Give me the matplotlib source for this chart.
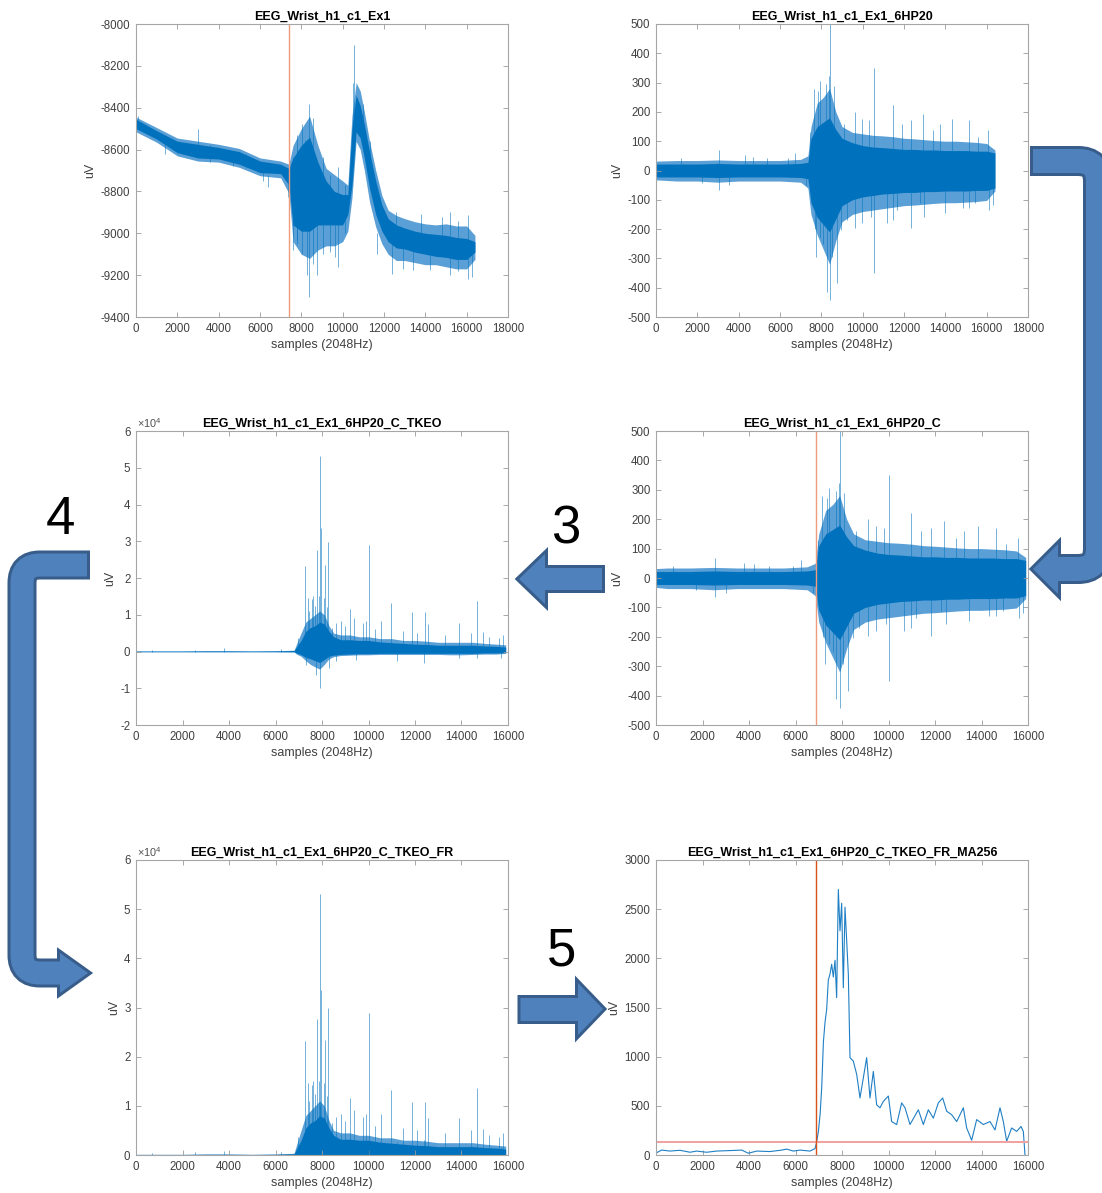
import numpy as np
import matplotlib.pyplot as plt
from matplotlib.path import Path
from matplotlib.patches import PathPatch, Polygon
from matplotlib.ticker import FuncFormatter

plt.rcParams['font.family'] = ['Liberation Sans', 'DejaVu Sans']
plt.rcParams['axes.unicode_minus'] = False
plt.rcParams['mathtext.default'] = 'regular'

# ---- raw signal (EEG_Wrist_h1_c1_Ex1), envelope read per segment ----
raw_x = [0, 1000, 2000, 3000, 4000, 5000, 6000, 7000,
         7400, 7600, 8000, 8400, 8800, 9200, 9600, 10000,
         10250, 10450, 10650, 10850, 11050, 11300, 11600, 11900,
         12200, 12600, 13000, 13500, 14000, 14500, 15000, 15500,
         16000, 16400]
raw_in_hi = [-8455, -8510, -8560, -8575, -8590, -8610, -8655, -8670,
             -8690, -8640, -8580, -8540, -8660, -8750, -8800, -8815,
             -8815, -8500, -8340, -8390, -8480, -8610, -8750, -8865,
             -8930, -8960, -8975, -8990, -9000, -9005, -9010, -9020,
             -9025, -9040]
raw_in_lo = [-8500, -8550, -8615, -8640, -8645, -8670, -8710, -8715,
             -8770, -8960, -8990, -8990, -8960, -8960, -8960, -8960,
             -8910, -8770, -8515, -8545, -8640, -8785, -8910, -8990,
             -9040, -9070, -9075, -9090, -9100, -9110, -9115, -9125,
             -9125, -9090]
raw_out_hi = [-8445, -8495, -8545, -8560, -8575, -8595, -8640, -8655,
              -8670, -8580, -8500, -8440, -8580, -8690, -8720, -8750,
              -8770, -8440, -8280, -8320, -8420, -8560, -8700, -8820,
              -8890, -8915, -8930, -8945, -8955, -8960, -8955, -8965,
              -8965, -9010]
raw_out_lo = [-8515, -8565, -8630, -8655, -8660, -8685, -8725, -8735,
              -8810, -9040, -9100, -9120, -9080, -9060, -9060, -9040,
              -8990, -8830, -8560, -8600, -8700, -8850, -8970, -9050,
              -9100, -9130, -9130, -9140, -9150, -9150, -9160, -9170,
              -9170, -9125]
# isolated excursions: sample, from, to
raw_spk_x = [113, 1400, 3016, 3600, 4700, 5300, 6130, 6400, 7371, 7613,
             7774, 7935, 8177, 8387, 8290, 8581, 8774, 9065, 9629, 9790,
             10113, 10548, 10500, 10968, 11300, 11645, 12371, 12903, 13419, 14226,
             14800, 15194, 15600, 16081, 16242, 12600, 13800, 9400, 8050, 7800]
raw_spk_a = [-8440, -8560, -8600, -8580, -8610, -8620, -8700, -8720, -8760, -8635,
             -8600, -8619, -8555, -8384, -8900, -8451, -8900, -8635, -8900, -8683,
             -8770, -8100, -8284, -8380, -8560, -9000, -9050, -9050, -9050, -9050,
             -8920, -8898, -8940, -8914, -9050, -8900, -8910, -8720, -8480, -8530]
raw_spk_b = [-8491, -8620, -8500, -8660, -8680, -8690, -8750, -8778, -8826, -9081,
             -9033, -8800, -8950, -9305, -9201, -9145, -9201, -9097, -9113, -9161,
             -9001, -8450, -8500, -8500, -8650, -9097, -9193, -9169, -9177, -9177,
             -9060, -9201, -9180, -9217, -9209, -9050, -9060, -9090, -9100, -9050]

# ---- high-passed signal (6HP20), read on the raw sample axis ----
hp_x = [0, 1000, 2000, 3000, 4000, 5000, 6000, 7000, 7350, 7500,
        7800, 8100, 8400, 8700, 9000, 9500, 10000, 10500, 11000, 11500,
        12000, 12500, 13000, 13500, 14000, 14500, 15000, 15500, 16000, 16400]
hp_in_hi = [22, 22, 22, 24, 22, 22, 22, 24, 28, 110,
            150, 165, 180, 140, 110, 95, 85, 80, 78, 75,
            72, 72, 70, 70, 68, 68, 68, 66, 66, 60]
hp_in_lo = [-22, -22, -22, -24, -22, -22, -22, -24, -28, -110,
            -160, -185, -210, -165, -120, -100, -90, -85, -80, -78,
            -75, -75, -72, -72, -70, -70, -70, -68, -68, -60]
hp_out_hi = [32, 34, 34, 36, 34, 34, 34, 38, 50, 150,
             230, 250, 280, 200, 150, 130, 125, 120, 118, 115,
             110, 108, 105, 102, 100, 100, 98, 96, 92, 70]
hp_out_lo = [-32, -36, -36, -40, -36, -36, -36, -40, -60, -150,
             -220, -270, -320, -240, -175, -150, -140, -135, -130, -125,
             -120, -118, -115, -112, -110, -110, -108, -106, -102, -70]
hp_spk_x = [3038, 3038, 4300, 4702, 6738, 2221, 3511, 6380, 7240, 1217,
            5376, 8430, 8430, 8258, 8746, 7756, 7957, 8244, 8387, 8602,
            7641, 7842, 10538, 10538, 9606, 8961, 11470, 11470, 9606, 9964,
            10323, 11184, 12331, 12331, 12904, 12976, 13765, 14339, 15127, 15127,
            16059, 16131, 16300, 9104, 9247, 7957, 8530, 9964, 10394, 11685,
            11900, 12761, 13406, 13980, 14840, 15557, 15414, 7450, 8100, 7700]
hp_spk_y = [69, -65, 52, 46, 60, -42, -50, 41, -50, 41,
            41, 500, -441, -413, -384, -294, 305, 296, 324, 290,
            279, 273, 349, -350, -197, -203, 222, -169, 200, 177,
            171, -180, 171, -197, 194, -158, 160, 177, 171, -129,
            137, -135, -118, 160, -169, -226, -294, -180, -158, -135,
            160, -112, 137, -146, -129, 115, -112, 130, -250, -200]

# cropped version starts this many samples later
crop_offset = 500
crop_end = 15900
onset = 6900          # detected onset on the cropped axis
threshold = 130       # onset threshold on the MA256 envelope

# ---- TKEO of the cropped signal ----
tk_x = [0, 1000, 2000, 3000, 4000, 5000, 6000, 6800, 6900, 7100,
        7300, 7500, 7700, 7900, 8100, 8300, 8500, 8800, 9200, 9600,
        10000, 10500, 11000, 11500, 12000, 12500, 13000, 13500, 14000, 14500,
        15000, 15500, 15900]
tk_in_hi = [100, 100, 100, 150, 150, 100, 150, 250, 1200, 3000,
            5500, 6500, 7000, 8000, 7500, 5500, 4000, 3200, 3200, 3000,
            3000, 2600, 2400, 2200, 2000, 1900, 1700, 1700, 1700, 1700,
            1500, 1400, 1200]
tk_in_lo = [-50, -50, -50, -50, -50, -50, -50, -80, -400, -900,
            -1600, -2000, -2500, -3000, -2200, -1300, -1000, -800, -700, -600,
            -600, -500, -500, -500, -500, -500, -500, -500, -500, -500,
            -400, -400, -300]
tk_out_hi = [150, 150, 150, 200, 200, 150, 200, 350, 2000, 5000,
             8000, 9000, 10000, 11000, 10000, 7000, 5000, 4500, 4500, 4000,
             4000, 3500, 3500, 3000, 3000, 2800, 2500, 2500, 2500, 2500,
             2200, 2000, 1800]
tk_out_lo = [-80, -80, -80, -80, -80, -80, -80, -120, -700, -1300,
             -2500, -3500, -4200, -4800, -3500, -2000, -1400, -1100, -1000, -900,
             -900, -800, -800, -800, -800, -800, -800, -900, -900, -800,
             -700, -700, -500]
tk_spk_x = [7901, 7930, 7959, 8260, 7787, 7256, 8131, 10038, 7385, 7557,
            7629, 8073, 10970, 10540, 11859, 12418, 14684, 9220, 9393, 9751,
            9894, 13910, 12547, 14914, 15631, 8604, 8819, 6955, 7758, 7313,
            8317, 8604, 11228, 12404, 13881, 14655, 15702, 9464, 2538, 3800,
            674, 6238, 7450, 7700, 7850, 8200, 8450, 9000, 10300, 11500,
            12100, 13300, 14400, 15200, 15800]
tk_spk_y = [53150, -9890, 33650, 29840, 27570, 23220, 23490, 28930, 14600, 14150,
            15060, 14600, 13240, 8250, 10790, 10700, 13700, 11610, 9160, 7800,
            8250, 7620, 7530, 5260, 3720, 7800, 8250, 3720, -6260, -3540,
            -4440, -2630, -2630, -3080, -1720, -1720, -1720, -2180, 540, 820,
            450, 630, 11000, 12500, 15000, 12000, 6500, 7000, 6000, 5500,
            5000, 4500, 5000, 4000, 4500]

# ---- 256-sample moving average of the rectified TKEO ----
ma_x = [0, 244, 602, 1032, 1462, 1749, 2179, 2609, 3183, 3685,
        3971, 4330, 4903, 5405, 5620, 5907, 6194, 6624, 6839, 6910,
        6990, 7060, 7130, 7200, 7270, 7340, 7412, 7484, 7556, 7627,
        7699, 7770, 7842, 7914, 7986, 8057, 8129, 8201, 8272, 8344,
        8487, 8631, 8774, 8918, 9061, 9204, 9348, 9491, 9634, 9778,
        9993, 10136, 10351, 10566, 10710, 10925, 11283, 11498, 11713, 11928,
        12143, 12330, 12502, 12717, 12932, 13219, 13362, 13577, 13792, 14079,
        14366, 14581, 14796, 14939, 15082, 15297, 15513, 15699, 15799, 15871]
ma_y = [20, 50, 40, 48, 28, 40, 28, 40, 45, 50,
        18, 40, 35, 50, 60, 40, 50, 40, 65, 130,
        250, 420, 700, 1150, 1350, 1480, 1780, 1840, 1940, 1810,
        1980, 1600, 2700, 2280, 2560, 1700, 2520, 2180, 1840, 990,
        955, 820, 580, 785, 990, 580, 850, 510, 480, 545,
        600, 340, 310, 530, 480, 310, 460, 310, 460, 375,
        530, 580, 445, 410, 340, 480, 275, 150, 360, 310,
        340, 255, 480, 340, 140, 275, 240, 290, 240, 0]

W, H = 1102, 1193
BLUE = '#0072BD'
LIGHT = '#5a9fd6'
PX = 72 / 100


def rect(left, top, right, bottom):
    return [left / W, 1 - bottom / H, (right - left) / W, (bottom - top) / H]


def style(ax, title, xmax, ylim, yticks, sci=False):
    ax.set_xlim(0, xmax)
    ax.set_ylim(*ylim)
    ax.set_xticks(np.arange(0, xmax + 1, 2000))
    ax.set_yticks(yticks)
    if sci:
        ax.yaxis.set_major_formatter(FuncFormatter(lambda v, p: '%d' % round(v / 1e4)))
        ax.text(0.003, 1.004, r'$\times10^{4}$', transform=ax.transAxes,
                fontsize=7.8, color='#505050', ha='left', va='bottom')
    ax.tick_params(direction='in', top=True, right=True, length=3.5, width=0.6,
                   color='#9a9a9a', labelsize=8.3, labelcolor='#404040', pad=4)
    for s in ax.spines.values():
        s.set_color('#a6a6a6')
        s.set_linewidth(0.8)
    ax.set_title(title, fontsize=9, fontweight='bold', pad=3)
    ax.set_xlabel('samples (2048Hz)', fontsize=9, color='#404040', labelpad=3)
    ax.set_ylabel('uV', fontsize=9, color='#404040', labelpad=3)


def band(ax, x, in_hi, in_lo, out_hi, out_lo):
    ax.fill_between(x, out_lo, out_hi, color=LIGHT, lw=0)
    ax.fill_between(x, in_lo, in_hi, color=BLUE, lw=0)


def spikes(ax, x, y0, y1):
    ax.vlines(x, y0, y1, color=BLUE, lw=0.7, alpha=0.55)


fig = plt.figure(figsize=(W / 100, H / 100), dpi=100)
fig.patch.set_facecolor('white')

# 1: raw
ax1 = fig.add_axes(rect(136, 24, 508, 317))
band(ax1, raw_x, raw_in_hi, raw_in_lo, raw_out_hi, raw_out_lo)
spikes(ax1, raw_spk_x, raw_spk_a, raw_spk_b)
ax1.axvline(onset + crop_offset, color='#ef9b7c', lw=1)
style(ax1, 'EEG_Wrist_h1_c1_Ex1', 18000, (-9400, -8000), np.arange(-9400, -7999, 200))

# 2: high-pass
ax2 = fig.add_axes(rect(656, 24, 1028, 317))
band(ax2, hp_x, hp_in_hi, hp_in_lo, hp_out_hi, hp_out_lo)
spikes(ax2, hp_spk_x, 0, hp_spk_y)
style(ax2, 'EEG_Wrist_h1_c1_Ex1_6HP20', 18000, (-500, 500), np.arange(-500, 501, 100))

# 3: cropped high-pass
cx = np.clip(np.array(hp_x) - crop_offset, 0, crop_end)
cs_x = np.array(hp_spk_x) - crop_offset
keep = (cs_x >= 0) & (cs_x <= crop_end)
ax3 = fig.add_axes(rect(656, 431, 1028, 725))
band(ax3, cx, hp_in_hi, hp_in_lo, hp_out_hi, hp_out_lo)
spikes(ax3, cs_x[keep], 0, np.array(hp_spk_y)[keep])
ax3.axvline(onset, color='#ef9b7c', lw=1)
style(ax3, 'EEG_Wrist_h1_c1_Ex1_6HP20_C', 16000, (-500, 500), np.arange(-500, 501, 100))

# 4: TKEO
ax4 = fig.add_axes(rect(136, 431, 508, 725))
band(ax4, tk_x, tk_in_hi, tk_in_lo, tk_out_hi, tk_out_lo)
spikes(ax4, tk_spk_x, 0, tk_spk_y)
style(ax4, 'EEG_Wrist_h1_c1_Ex1_6HP20_C_TKEO', 16000, (-20000, 60000),
      np.arange(-20000, 60001, 10000), sci=True)

# 5: rectified TKEO
ax5 = fig.add_axes(rect(136, 860, 508, 1155))
fr_in = np.maximum(tk_in_hi, -np.array(tk_in_lo))
fr_out = np.maximum(tk_out_hi, -np.array(tk_out_lo))
band(ax5, tk_x, fr_in, np.zeros(len(tk_x)), fr_out, np.zeros(len(tk_x)))
spikes(ax5, tk_spk_x, 0, np.abs(tk_spk_y))
style(ax5, 'EEG_Wrist_h1_c1_Ex1_6HP20_C_TKEO_FR', 16000, (0, 60000),
      np.arange(0, 60001, 10000), sci=True)

# 6: moving average with threshold and onset
ax6 = fig.add_axes(rect(656, 860, 1028, 1155))
ax6.plot(ma_x, ma_y, color='#1f7fc4', lw=0.8)
ax6.axhline(threshold, color='#f3a0a0', lw=1.4)
ax6.axvline(onset, color='#D95319', lw=1)
style(ax6, 'EEG_Wrist_h1_c1_Ex1_6HP20_C_TKEO_FR_MA256', 16000, (0, 3000),
      np.arange(0, 3001, 500))

# ---- block arrows and step numbers on a full-figure overlay ----
ov = fig.add_axes([0, 0, 1, 1], zorder=10)
ov.set_xlim(0, W)
ov.set_ylim(H, 0)
ov.axis('off')
ov.patch.set_visible(False)

FILL = '#4F81BD'
EDGE = '#385D8A'


def block_arrow(ax, pts, width, head_len, head_half, radius=0, border=3):
    pts = np.asarray(pts, float)
    verts = [pts[0]]
    codes = [Path.MOVETO]
    for i in range(1, len(pts) - 1):
        p0, p1, p2 = pts[i - 1], pts[i], pts[i + 1]
        d0 = (p1 - p0) / np.linalg.norm(p1 - p0)
        d1 = (p2 - p1) / np.linalg.norm(p2 - p1)
        verts += [p1 - d0 * radius, p1, p1 + d1 * radius]
        codes += [Path.LINETO, Path.CURVE3, Path.CURVE3]
    verts.append(pts[-1])
    codes.append(Path.LINETO)
    d_start = (pts[1] - pts[0]) / np.linalg.norm(pts[1] - pts[0])
    outer = list(verts)
    outer[0] = pts[0] - d_start * border
    d_end = (pts[-1] - pts[-2]) / np.linalg.norm(pts[-1] - pts[-2])
    n = np.array([-d_end[1], d_end[0]])
    head = [pts[-1] + n * head_half, pts[-1] + d_end * head_len, pts[-1] - n * head_half]
    ax.add_patch(PathPatch(Path(outer, codes), fill=False, edgecolor=EDGE,
                           lw=(width + 2 * border) * PX, capstyle='butt'))
    ax.add_patch(Polygon(head, closed=True, fc=EDGE, ec=EDGE,
                         lw=2 * border * PX, joinstyle='miter'))
    ax.add_patch(PathPatch(Path(verts, codes), fill=False, edgecolor=FILL,
                           lw=width * PX, capstyle='butt'))
    ax.add_patch(Polygon(head, closed=True, fc=FILL, ec='none'))


block_arrow(ov, [(1033, 161), (1098, 161), (1098, 569), (1058, 569)], 24, 25, 25, radius=20)
block_arrow(ov, [(602, 579), (545, 579)], 22, 26, 25)
block_arrow(ov, [(87, 565), (22, 565), (22, 973), (60, 973)], 23, 28, 20, radius=18)
block_arrow(ov, [(520, 1009), (578, 1009)], 23, 25, 26)

for label, (tx, ty) in [('3', (566, 529)), ('4', (60, 520)), ('5', (562, 951))]:
    ov.text(tx, ty, label, fontsize=38, ha='center', va='center', color='black')

fig.savefig('out.png', dpi=100)
